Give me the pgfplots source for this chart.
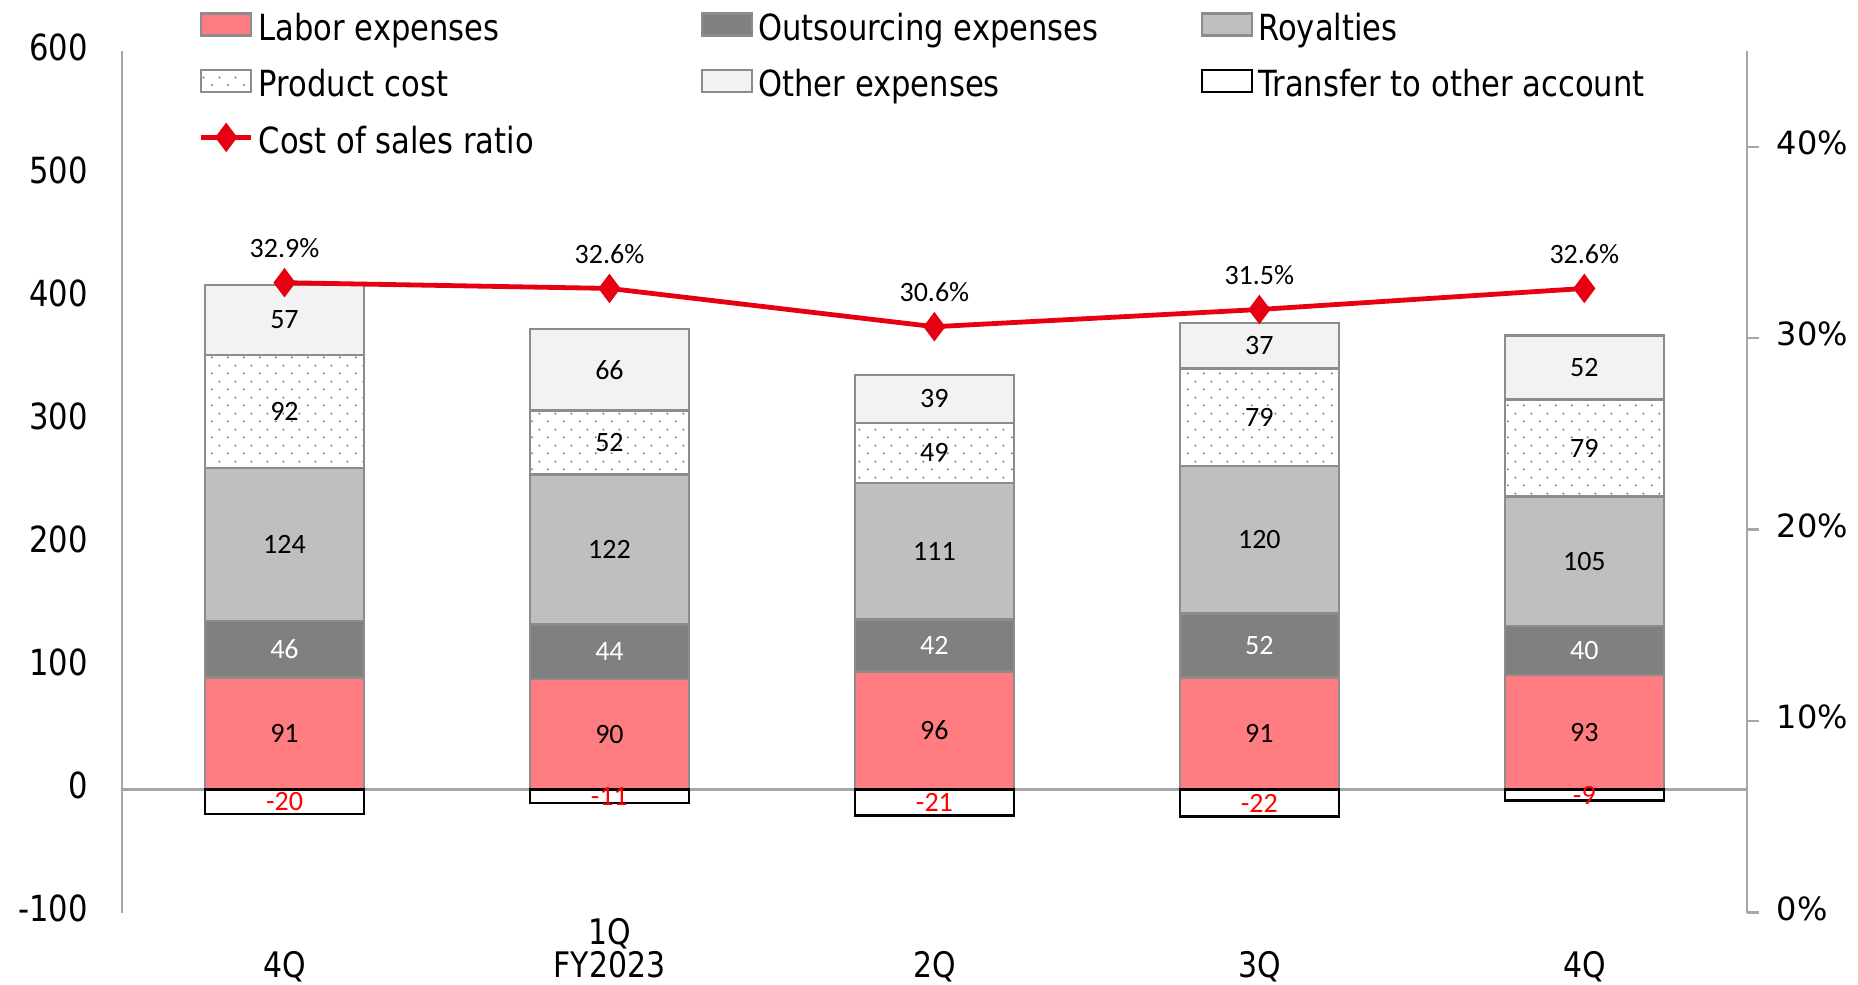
\documentclass[border=0pt]{standalone}
\usepackage{fontspec}
\setmainfont{DejaVu Sans}
\newfontfamily\cfont[FakeStretch=0.85]{DejaVu Sans}
\newfontfamily\lfont{Carlito}
\newfontfamily\vfont{DejaVu Sans}
\usepackage{pgfplots}
\usepackage{pgfplotstable}
\pgfplotsset{compat=1.18}
\usetikzlibrary{patterns.meta}

\definecolor{labor}{HTML}{FF7C80}
\definecolor{outs}{HTML}{808080}
\definecolor{roy}{HTML}{BFBFBF}
\definecolor{other}{HTML}{F2F2F2}
\definecolor{ratio}{HTML}{E60012}
\definecolor{edge}{HTML}{8C8C8C}
\definecolor{axgray}{HTML}{A6A6A6}

\tikzdeclarepattern{
  name=sdots,
  type=uncolored,
  bounding box={(0pt,0pt) and (4pt,4pt)},
  tile size={(4pt,4pt)},
  code={
    \pgfpathcircle{\pgfpoint{1pt}{1pt}}{0.3pt}
    \pgfpathcircle{\pgfpoint{3pt}{3pt}}{0.3pt}
    \pgfusepath{fill}
  }
}

% cost of sales breakdown (left axis) and ratio in % (right axis)
\pgfplotstableread{
x labor outs roy prod other transfer ratio
0 91 46 124 92 57 -20 32.9
1 90 44 122 52 66 -11 32.6
2 96 42 111 49 39 -21 30.6
3 91 52 120 79 37 -22 31.5
4 93 40 105 79 52 -9  32.6
}\costdata

\pgfplotsset{
  frame/.style={
    scale only axis, width=406.2pt, height=215.4pt,
    xmin=-0.5, xmax=4.5,
  },
  swatch/.style={legend image code/.code={
    \draw[##1] (0pt,-1.25pt) rectangle (12.5pt,4.25pt);}},
  linesw/.style={legend image code/.code={
    \draw[##1,/tikz/sharp plot,mark repeat=2,mark phase=2] plot coordinates {(0pt,1.5pt) (6.25pt,1.5pt) (12.5pt,1.5pt)};}},
  seg/.style={draw=edge, line width=0.6pt},
  vlabel/.style={
    visualization depends on=rawy\as\rawy,
    nodes near coords={\pgfmathprintnumber[assume math mode=true]{\rawy}},
    every node near coord/.append style={anchor=center, font=\lfont\fontsize{7}{8}\selectfont},
  },
}

\begin{document}
\begin{tikzpicture}

\begin{axis}[
  frame,
  ymin=-100, ymax=600,
  ybar stacked, bar width=39.7pt,
  axis y line*=left, axis x line*=bottom,
  x axis line style={draw=none},
  y axis line style={draw=axgray, line width=0.6pt},
  tick style={draw=none},
  ytick={-100,0,...,600},
  yticklabels={-100,0,100,200,300,400,500,600},
  yticklabel style={font=\cfont\fontsize{9}{10}\selectfont, xshift=-5pt, yshift=1pt},
  xtick={0,...,4},
  xticklabels={4Q,{1Q\\FY2023},2Q,3Q,4Q},
  xticklabel style={font=\cfont\fontsize{8.8}{8.4}\selectfont, align=center,
    anchor=south, text depth=0pt, inner sep=0pt, yshift=-16.5pt},
  extra y ticks={0},
  extra y tick labels={},
  extra y tick style={grid=major, major grid style={draw=axgray, line width=0.6pt}},
  vlabel,
  legend columns=3,
  legend cell align=left,
  legend style={draw=none, fill=none, inner sep=0pt,
    at={(axis description cs:0.0468,1.046)}, anchor=north west,
    font=\cfont\fontsize{9}{10}\selectfont,
    nodes={inner sep=0pt, text height=7pt, text depth=2pt},
    row sep=5.1pt,
    /tikz/every odd column/.append style={column sep=1.25pt}},
]
\addplot[seg, swatch, fill=labor] table[x=x, y=labor] {\costdata};
\addlegendentry{\makebox[110.6pt][l]{Labor expenses}}
\addplot[seg, swatch, fill=outs, every node near coord/.append style={text=white}] table[x=x, y=outs] {\costdata};
\addlegendentry{\makebox[110.6pt][l]{Outsourcing expenses}}
\addplot[seg, swatch, fill=roy] table[x=x, y=roy] {\costdata};
\addlegendentry{Royalties}
\addplot[seg, swatch, fill=white, postaction={pattern=sdots, pattern color=gray}] table[x=x, y=prod] {\costdata};
\addlegendentry{\makebox[110.6pt][l]{Product cost}}
\addplot[seg, swatch, fill=other] table[x=x, y=other] {\costdata};
\addlegendentry{\makebox[110.6pt][l]{Other expenses}}
\addlegendimage{swatch, draw=black, line width=0.6pt, fill=white}
\addlegendentry{Transfer to other account}
\addlegendimage{linesw, ratio, line width=1.2pt, mark=diamond*, mark size=2.7pt}
\addlegendentry{Cost of sales ratio}
\coordinate (bl) at (rel axis cs:0,0);
\coordinate (tr) at (rel axis cs:1,1);
\end{axis}

% transfer to other account (negative bars)
\begin{axis}[
  frame, hide axis,
  ymin=-100, ymax=600,
  ybar, bar width=39.7pt,
  vlabel,
  every node near coord/.append style={yshift={-0.15386pt*(\rawy)}},
]
\addplot[draw=black, line width=0.6pt, fill=white,
  every node near coord/.append style={text=red}] table[x=x, y=transfer] {\costdata};
\end{axis}

% cost of sales ratio
\begin{axis}[
  frame,
  ymin=0, ymax=45,
  axis y line*=right, axis x line=none,
  xtick=\empty,
  y axis line style={draw=axgray, line width=0.6pt},
  ytick={0,10,...,40},
  yticklabels={0\%,10\%,20\%,30\%,40\%},
  tick align=outside, major tick length=3pt,
  ytick style={draw=axgray, line width=0.6pt},
  yticklabel style={font=\vfont\fontsize{8}{9}\selectfont, xshift=1pt, yshift=1pt},
]
\addplot[ratio, line width=1.2pt, mark=diamond*, mark size=2.7pt,
  point meta=y,
  nodes near coords={\pgfmathprintnumber[assume math mode=true,fixed,fixed zerofill,precision=1]{\pgfplotspointmeta}\%},
  every node near coord/.append style={text=black, anchor=base, yshift=6.2pt,
    font=\lfont\fontsize{7}{8}\selectfont}] table[x=x, y=ratio] {\costdata};
\end{axis}

\pgfresetboundingbox
\path ([shift={(-30.5pt,-17.9pt)}]bl) rectangle ([shift={(27.8pt,12.75pt)}]tr);
\end{tikzpicture}
\end{document}
